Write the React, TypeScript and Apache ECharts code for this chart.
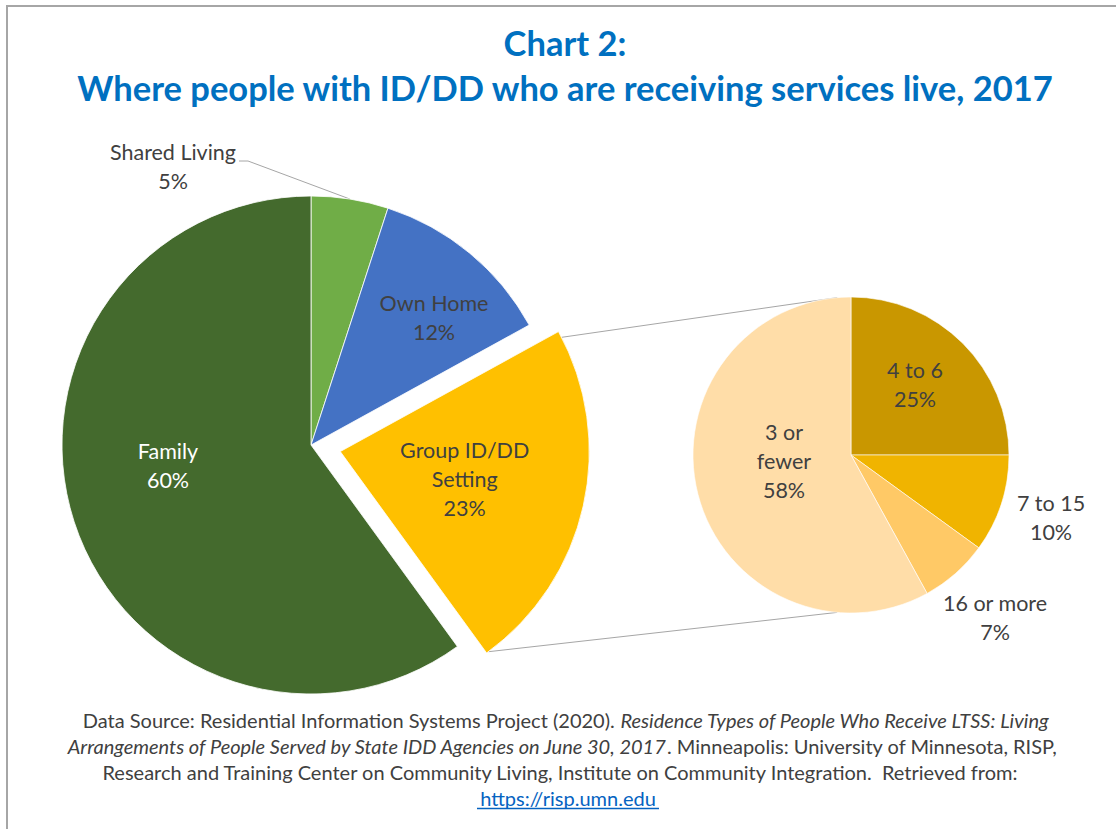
import React, { useEffect, useRef } from "react";
import * as echarts from "echarts";

const MAIN_NAMES = ["Shared Living", "Own Home", "Group ID/DD\nSetting", "Family"];
const MAIN_VALUES = [5, 12, 23, 60];
const MAIN_COLORS = ["#70AD47", "#4472C4", "#FFC000", "#446A2D"];
const MAIN_LABEL_COLORS = ["#404040", "#404040", "#404040", "#FFFFFF"];

const SUB_NAMES = ["4 to 6", "7 to 15", "16 or more", "3 or\nfewer"];
const SUB_VALUES = [25, 10, 7, 58];
const SUB_COLORS = ["#C99700", "#F0B400", "#FFC966", "#FFDDA8"];

const TITLE_LINES = ["Chart 2:", "Where people with ID/DD who are receiving services live, 2017"];

const FONT = "Lato, 'Open Sans', sans-serif";

// layout constants
const W = 1116;
const H = 829;
const MAIN_C = [311, 445];
const MAIN_R = 249;
const EXPLODE = 30;
const EXPLODED_INDEX = 2;
const SUB_C = [851, 455];
const SUB_R = 158;
const LABEL_SIZE = 21.5;
const SRC_SIZE = 20;
const TITLE_SIZE = 34.5;

const MAIN_LABEL_POS = [
  [173, 166],
  [434, 317],
  [493, 483],
  [168, 465],
];
const SUB_LABEL_POS = [
  [915, 384],
  [1051, 517],
  [995, 617],
  [784, 461],
];

function dir(deg: number) {
  const a = (deg * Math.PI) / 180;
  return [Math.sin(a), -Math.cos(a)];
}

function cumAngles(values: number[]) {
  const sum = values.reduce((a, b) => a + b, 0);
  const res: number[][] = [];
  let acc = 0;
  values.forEach((v) => {
    const s = (acc / sum) * 360;
    acc += v;
    res.push([s, (acc / sum) * 360]);
  });
  return res;
}

export default function App() {
  const ref = useRef<HTMLDivElement>(null);
  useEffect(() => {
    document.body.style.margin = "0";
    if (!ref.current) return;
    const chart = echarts.init(ref.current, null, { renderer: "svg" });

    const mainAngles = cumAngles(MAIN_VALUES);
    const [gs, ge] = mainAngles[EXPLODED_INDEX];
    const gm = (gs + ge) / 2;
    const dm = dir(gm);
    const vx = MAIN_C[0] + EXPLODE * dm[0];
    const vy = MAIN_C[1] + EXPLODE * dm[1];
    const d1 = dir(gs + 1.5);
    const d2 = dir(ge - 0.5);
    const p1 = [vx + MAIN_R * d1[0], vy + MAIN_R * d1[1]];
    const p2 = [vx + MAIN_R * d2[0], vy + MAIN_R * d2[1]];
    const t1 = dir(355);
    const t2 = dir(185);
    const q1 = [SUB_C[0] + SUB_R * t1[0], SUB_C[1] + SUB_R * t1[1]];
    const q2 = [SUB_C[0] + SUB_R * t2[0], SUB_C[1] + SUB_R * t2[1]];

    const slAngle = (mainAngles[0][0] + mainAngles[0][1]) / 2;
    const sd = dir(slAngle);
    const slEdge = [MAIN_C[0] + MAIN_R * sd[0], MAIN_C[1] + MAIN_R * sd[1]];

    const labelText = (name: string, value: number) => `${name}\n${value}%`;
    const rich = {
      n: { font: `${SRC_SIZE}px ${FONT}`, fill: "#404040" },
      i: { font: `italic ${SRC_SIZE}px ${FONT}`, fill: "#404040" },
    };

    const option: any = {
      animation: false,
      backgroundColor: "#FFFFFF",
      graphic: [
        { type: "line", shape: { x1: 7, y1: 6, x2: W, y2: 6 }, style: { stroke: "#A6A6A6", lineWidth: 2 } },
        { type: "line", shape: { x1: 7, y1: 5, x2: 7, y2: H }, style: { stroke: "#A6A6A6", lineWidth: 2 } },
        {
          type: "text",
          x: 565,
          y: 42,
          style: { text: TITLE_LINES[0], font: `bold ${TITLE_SIZE}px ${FONT}`, fill: "#0070C0", align: "center", verticalAlign: "middle" },
        },
        {
          type: "text",
          x: 565,
          y: 87,
          style: { text: TITLE_LINES[1], font: `bold ${TITLE_SIZE}px ${FONT}`, fill: "#0070C0", align: "center", verticalAlign: "middle" },
        },
        { type: "line", shape: { x1: p1[0], y1: p1[1], x2: q1[0], y2: q1[1] }, style: { stroke: "#A6A6A6", lineWidth: 1 } },
        { type: "line", shape: { x1: p2[0], y1: p2[1], x2: q2[0], y2: q2[1] }, style: { stroke: "#A6A6A6", lineWidth: 1 } },
        {
          type: "text",
          x: 566,
          y: 720,
          style: {
            text: "{n|Data Source: Residential Information Systems Project (2020). }{i|Residence Types of People Who Receive LTSS: Living}",
            align: "center",
            verticalAlign: "middle",
            rich,
          },
        },
        {
          type: "text",
          x: 562,
          y: 746,
          style: {
            text: "{i|Arrangements of People Served by State IDD Agencies on June 30, 2017}{n|. Minneapolis: University of Minnesota, RISP,}",
            align: "center",
            verticalAlign: "middle",
            rich,
          },
        },
        {
          type: "text",
          x: 560,
          y: 772,
          style: {
            text: "Research and Training Center on Community Living, Institute on Community Integration.  Retrieved from:",
            font: `${SRC_SIZE}px ${FONT}`,
            fill: "#404040",
            align: "center",
            verticalAlign: "middle",
          },
        },
        {
          type: "text",
          x: 568,
          y: 798,
          style: {
            text: "https://risp.umn.edu",
            font: `${SRC_SIZE}px ${FONT}`,
            fill: "#0563C1",
            align: "center",
            verticalAlign: "middle",
          },
        },
        { type: "line", shape: { x1: 477, y1: 808.5, x2: 659, y2: 808.5 }, style: { stroke: "#0563C1", lineWidth: 1.3 } },
      ],
      series: [
        {
          type: "pie",
          center: MAIN_C,
          radius: [0, MAIN_R],
          startAngle: 90,
          clockwise: true,
          selectedMode: "single",
          selectedOffset: EXPLODE,
          silent: true,
          itemStyle: { borderColor: "#FFFFFF", borderWidth: 0.8 },
          label: {
            show: true,
            position: "inside",
            fontFamily: FONT,
            fontSize: LABEL_SIZE,
            lineHeight: 29,
            color: "#404040",
            align: "center",
          },
          labelLine: { show: false },
          labelLayout: (params: any) => {
            const i = params.dataIndex;
            const p = MAIN_LABEL_POS[i];
            const res: any = { x: p[0], y: p[1], align: "center", verticalAlign: "middle" };
            if (i === 0) {
              res.labelLinePoints = [slEdge, [248, 161], [239, 161]];
            }
            return res;
          },
          data: MAIN_VALUES.map((v, i) => ({
            value: v,
            name: MAIN_NAMES[i],
            selected: i === EXPLODED_INDEX,
            itemStyle: { color: MAIN_COLORS[i] },
            label: {
              formatter: labelText(MAIN_NAMES[i], v),
              color: MAIN_LABEL_COLORS[i],
              position: i === 0 ? "outside" : "inside",
            },
            labelLine: i === 0 ? { show: true, lineStyle: { color: "#A6A6A6", width: 1 } } : { show: false },
          })),
        },
        {
          type: "pie",
          center: SUB_C,
          radius: [0, SUB_R],
          startAngle: 90,
          clockwise: true,
          silent: true,
          itemStyle: { borderColor: "#FFFFFF", borderWidth: 0.6 },
          label: {
            show: true,
            position: "inside",
            fontFamily: FONT,
            fontSize: LABEL_SIZE,
            lineHeight: 29,
            color: "#404040",
            align: "center",
          },
          labelLine: { show: false },
          labelLayout: (params: any) => {
            const p = SUB_LABEL_POS[params.dataIndex];
            return { x: p[0], y: p[1], align: "center", verticalAlign: "middle" };
          },
          data: SUB_VALUES.map((v, i) => ({
            value: v,
            name: SUB_NAMES[i],
            itemStyle: { color: SUB_COLORS[i] },
            label: { formatter: labelText(SUB_NAMES[i], v) },
          })),
        },
      ],
    };
    chart.setOption(option);
    return () => chart.dispose();
  }, []);
  return <div ref={ref} style={{ width: W, height: H }} />;
}
